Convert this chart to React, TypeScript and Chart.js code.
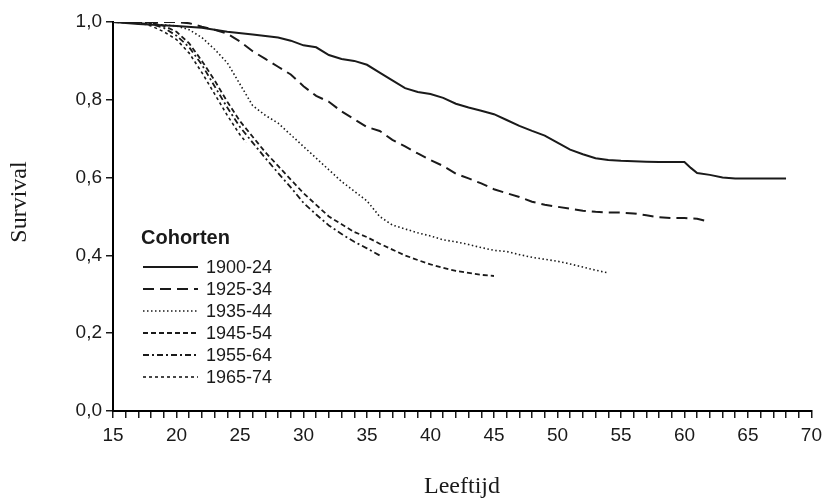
import React, { useEffect, useRef } from 'react';
import { Chart, registerables } from 'chart.js';

Chart.register(...registerables);

// ---- Data ----
const seriesLabels = ['1900-24', '1925-34', '1935-44', '1945-54', '1955-64', '1965-74'];

const ages1900 = [15, 17, 20, 22, 24, 26, 28, 29, 30, 31, 32, 33, 34, 35, 36, 37, 38, 39, 40, 41, 42, 43, 44, 45, 46, 47, 48, 49, 50, 51, 52, 53, 54, 55, 56, 57, 58, 59, 60, 60.5, 61, 62, 63, 64, 65, 66, 67, 68];
const surv1900 = [1.0, 0.995, 0.99, 0.985, 0.975, 0.968, 0.96, 0.952, 0.94, 0.935, 0.915, 0.905, 0.9, 0.89, 0.87, 0.85, 0.83, 0.82, 0.815, 0.805, 0.79, 0.78, 0.772, 0.763, 0.748, 0.733, 0.72, 0.708, 0.69, 0.672, 0.66, 0.65, 0.645, 0.643, 0.642, 0.641, 0.64, 0.64, 0.64, 0.625, 0.612, 0.607, 0.6, 0.598, 0.598, 0.598, 0.598, 0.598];

const ages1925 = [15, 19, 20, 21, 22, 23, 24, 25, 26, 27, 28, 29, 30, 31, 32, 33, 34, 35, 36, 37, 38, 39, 40, 41, 42, 43, 44, 45, 46, 47, 48, 49, 50, 51, 52, 53, 54, 55, 56, 57, 58, 59, 60, 61, 62];
const surv1925 = [1.0, 1.0, 1.0, 0.997, 0.988, 0.98, 0.97, 0.95, 0.925, 0.905, 0.885, 0.865, 0.835, 0.81, 0.795, 0.77, 0.75, 0.73, 0.72, 0.697, 0.68, 0.662, 0.645, 0.63, 0.61, 0.598, 0.585, 0.57, 0.56, 0.55, 0.538, 0.53, 0.525, 0.52, 0.515, 0.512, 0.51, 0.51, 0.508, 0.503, 0.498, 0.496, 0.496, 0.494, 0.486];

const ages1935 = [15, 18, 20, 21, 22, 23, 24, 25, 26, 27, 28, 29, 30, 31, 32, 33, 34, 35, 36, 37, 38, 39, 40, 41, 42, 43, 44, 45, 46, 47, 48, 49, 50, 51, 52, 53, 54];
const surv1935 = [1.0, 0.995, 0.99, 0.98, 0.96, 0.93, 0.895, 0.84, 0.785, 0.76, 0.74, 0.71, 0.68, 0.65, 0.62, 0.59, 0.565, 0.54, 0.5, 0.478, 0.468, 0.458, 0.45, 0.44, 0.435, 0.428, 0.42, 0.413, 0.41, 0.402, 0.395, 0.39, 0.385, 0.378, 0.37, 0.362, 0.355];

const ages1945 = [15, 18, 19, 20, 21, 22, 23, 24, 25, 26, 27, 28, 29, 30, 31, 32, 33, 34, 35, 36, 37, 38, 39, 40, 41, 42, 43, 44, 45];
const surv1945 = [1.0, 0.998, 0.99, 0.975, 0.945, 0.9, 0.85, 0.795, 0.745, 0.705, 0.665, 0.63, 0.595, 0.56, 0.53, 0.5, 0.48, 0.46, 0.447, 0.43, 0.415, 0.4, 0.388, 0.377, 0.368, 0.36, 0.355, 0.35, 0.347];

const ages1955 = [15, 18, 19, 20, 21, 22, 23, 24, 25, 26, 27, 28, 29, 30, 31, 32, 33, 34, 35, 36];
const surv1955 = [1.0, 0.995, 0.985, 0.965, 0.935, 0.89, 0.835, 0.78, 0.73, 0.69, 0.65, 0.612, 0.575, 0.535, 0.505, 0.477, 0.455, 0.435, 0.418, 0.4];

const ages1965 = [15, 17, 18, 19, 20, 21, 22, 23, 24, 25, 25.5];
const surv1965 = [1.0, 0.998, 0.99, 0.975, 0.955, 0.92, 0.87, 0.815, 0.76, 0.71, 0.69];

const xTickValues = [15, 20, 25, 30, 35, 40, 45, 50, 55, 60, 65, 70];
const yTickValues = [0, 0.2, 0.4, 0.6, 0.8, 1.0];

const xTitle = 'Leeftijd';
const yTitle = 'Survival';
const legendTitle = 'Cohorten';

// ---- Styles ----
const lineStyles = [
  { dash: [] as number[], width: 2 },
  { dash: [11, 6], width: 2 },
  { dash: [1.5, 2.5], width: 1.6 },
  { dash: [5, 3], width: 1.8 },
  { dash: [6, 3, 2, 3], width: 1.8 },
  { dash: [3, 3], width: 1.6 },
];

const INK = '#1a1a1a';

function pts(xs: number[], ys: number[]) {
  return xs.map((x, i) => ({ x, y: ys[i] }));
}

const overlayPlugin = {
  id: 'overlay',
  afterDraw(chart: any) {
    const ctx = chart.ctx as CanvasRenderingContext2D;
    ctx.save();
    // axis titles
    ctx.fillStyle = INK;
    ctx.font = '24px "Liberation Serif", "DejaVu Serif", serif';
    ctx.textAlign = 'center';
    ctx.textBaseline = 'middle';
    ctx.fillText(xTitle, 462, 487);
    ctx.save();
    ctx.translate(20, 202);
    ctx.rotate(-Math.PI / 2);
    ctx.fillText(yTitle, 0, 0);
    ctx.restore();

    // legend
    ctx.textAlign = 'left';
    ctx.font = 'bold 20px "Liberation Sans", Arial, sans-serif';
    ctx.fillText(legendTitle, 141, 238);
    ctx.font = '18px "Liberation Sans", Arial, sans-serif';
    const rowY = [267, 289, 311, 333, 355, 377];
    seriesLabels.forEach((lab, i) => {
      const y = rowY[i];
      ctx.beginPath();
      ctx.setLineDash(lineStyles[i].dash);
      ctx.lineWidth = lineStyles[i].width;
      ctx.strokeStyle = INK;
      ctx.moveTo(143, y);
      ctx.lineTo(198, y);
      ctx.stroke();
      ctx.setLineDash([]);
      ctx.fillText(lab, 206, y + 1);
    });
    ctx.restore();
  },
};

export default function App() {
  const canvasRef = useRef<HTMLCanvasElement | null>(null);

  useEffect(() => {
    document.body.style.margin = '0';
    const canvas = canvasRef.current;
    if (!canvas) return;
    const allAges = [ages1900, ages1925, ages1935, ages1945, ages1955, ages1965];
    const allSurv = [surv1900, surv1925, surv1935, surv1945, surv1955, surv1965];
    const datasets = seriesLabels.map((label, i) => ({
      label,
      data: pts(allAges[i], allSurv[i]),
      borderColor: INK,
      backgroundColor: INK,
      borderWidth: lineStyles[i].width,
      borderDash: lineStyles[i].dash,
      pointRadius: 0,
      fill: false,
      tension: 0,
    }));

    const tickFont = { family: '"Liberation Sans", Arial, sans-serif', size: 19 };

    const chart = new Chart(canvas, {
      type: 'line',
      data: { datasets },
      plugins: [overlayPlugin],
      options: {
        animation: false,
        responsive: true,
        maintainAspectRatio: false,
        layout: { padding: { top: 22, right: 16, left: 0, bottom: 0 } },
        plugins: { legend: { display: false }, tooltip: { enabled: false } },
        scales: {
          x: {
            type: 'linear',
            min: 15,
            max: 70,
            afterFit: (s: any) => { s.height = 93; },
            afterBuildTicks: (s: any) => {
              const t = [];
              for (let v = 15; v <= 70; v++) t.push({ value: v });
              s.ticks = t;
            },
            ticks: {
              autoSkip: false,
              maxRotation: 0,
              minRotation: 0,
              padding: 6,
              color: INK,
              font: tickFont,
              callback: (v: any) => (xTickValues.includes(Number(v)) ? String(v) : ''),
            },
            grid: { drawOnChartArea: false, drawTicks: true, tickLength: 7, color: INK, lineWidth: 1.5 },
            border: { display: true, color: '#000', width: 2 },
          },
          y: {
            type: 'linear',
            min: 0,
            max: 1,
            afterFit: (s: any) => { s.width = 113; },
            afterBuildTicks: (s: any) => {
              s.ticks = yTickValues.map((v) => ({ value: v }));
            },
            ticks: {
              padding: 4,
              color: INK,
              font: tickFont,
              callback: (v: any) => Number(v).toFixed(1).replace('.', ','),
            },
            grid: { drawOnChartArea: false, drawTicks: true, tickLength: 7, color: INK, lineWidth: 1.5 },
            border: { display: true, color: '#000', width: 2 },
          },
        },
      },
    } as any);

    return () => chart.destroy();
  }, []);

  return (
    <div style={{ width: 828, height: 504, position: 'relative', background: '#fff' }}>
      <canvas ref={canvasRef} />
    </div>
  );
}
